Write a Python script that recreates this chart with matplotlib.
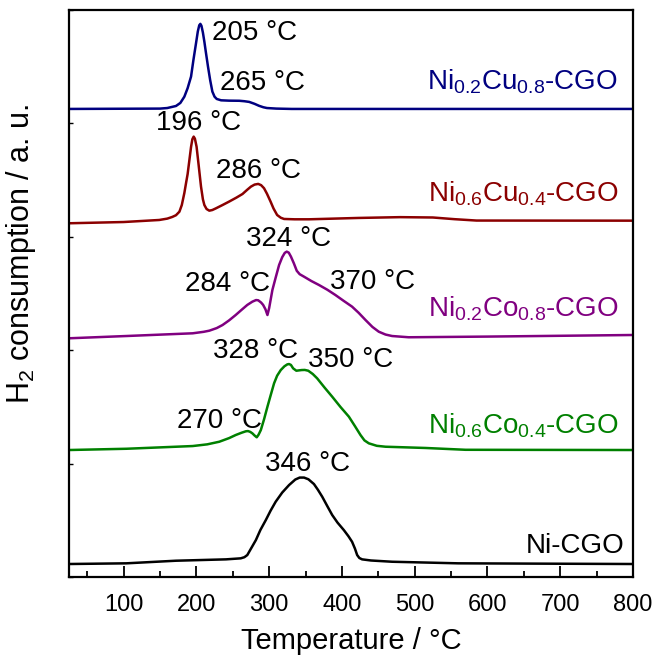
import matplotlib
matplotlib.use("Agg")
import matplotlib.pyplot as plt

plt.rcParams['font.family'] = ['Liberation Sans', 'DejaVu Sans']
plt.rcParams['mathtext.fontset'] = 'custom'
plt.rcParams['mathtext.rm'] = 'Liberation Sans'
plt.rcParams['mathtext.it'] = 'Liberation Sans:italic'

# --- data (temperature in degC, signal in a.u.) ---
t_nicu28 = [25, 150, 160, 172, 178, 183.5, 188, 192.7, 196, 199.6, 202, 204, 205.5, 207, 209, 211, 213, 216, 219,
            222, 225, 228, 234, 245, 259, 266, 272.6, 280, 286, 292, 297, 310, 331, 800]
s_nicu28 = [0.127, 0.130, 0.135, 0.153, 0.18, 0.235, 0.31, 0.412, 0.56, 0.709, 0.81, 0.865, 0.877, 0.86, 0.80, 0.72,
            0.63, 0.50, 0.38, 0.28, 0.235, 0.215, 0.203, 0.200, 0.199, 0.195, 0.189, 0.172, 0.155, 0.142, 0.135, 0.13,
            0.127, 0.127]

t_nicu64 = [25, 100, 149, 160, 167, 172, 176.7, 180, 183.5, 186, 188, 190.5, 192.7, 194.5, 196.3, 198, 200.3, 203,
            206.4, 209, 211, 214, 217.8, 222, 227, 236, 245, 255, 263.4, 270, 275, 280, 285, 289, 293, 297, 302, 306,
            311, 316, 320.5, 335, 354.8, 423, 480, 525, 555, 585, 800]
s_nicu64 = [0.119, 0.13, 0.148, 0.16, 0.175, 0.19, 0.221, 0.28, 0.386, 0.48, 0.553, 0.68, 0.792, 0.86, 0.883, 0.865,
            0.794, 0.64, 0.442, 0.33, 0.280, 0.245, 0.230, 0.236, 0.251, 0.28, 0.310, 0.345, 0.377, 0.415, 0.442,
            0.460, 0.466, 0.455, 0.428, 0.38, 0.310, 0.25, 0.192, 0.168, 0.157, 0.154, 0.154, 0.166, 0.173, 0.170,
            0.155, 0.143, 0.142]

t_nico28 = [25, 103.7, 195, 210, 217.8, 228, 236, 245, 254, 262, 270, 277, 282, 285, 289, 291.8, 295, 297.7, 300,
            304.5, 309, 313.7, 318, 321.5, 324.2, 327, 330, 334, 338, 342, 348, 358, 368.5, 380, 391, 402, 414, 423,
            432.5, 442, 450.7, 460, 469, 491.8, 600, 800]
s_nico28 = [0.105, 0.125, 0.149, 0.162, 0.172, 0.195, 0.222, 0.263, 0.310, 0.355, 0.399, 0.428, 0.442, 0.440, 0.42,
            0.399, 0.36, 0.310, 0.37, 0.531, 0.64, 0.751, 0.82, 0.858, 0.869, 0.86, 0.825, 0.766, 0.70, 0.67, 0.648,
            0.61, 0.575, 0.533, 0.487, 0.437, 0.384, 0.33, 0.266, 0.205, 0.163, 0.138, 0.125, 0.114, 0.12, 0.134]

t_nico64 = [25, 103.7, 195, 215, 231.5, 245, 254, 262, 268, 271, 274, 277, 280, 283, 285.5, 288.6, 293, 297.7, 302,
            306.8, 311, 316, 321, 325, 327.4, 330, 333, 337.4, 341, 344.7, 349, 353.8, 360, 366, 376, 386.7, 398,
            409.6, 418, 425.6, 431, 437, 448, 460, 515, 570, 800]
s_nico64 = [0.120, 0.131, 0.155, 0.17, 0.193, 0.225, 0.252, 0.272, 0.285, 0.287, 0.28, 0.267, 0.248, 0.232, 0.255,
            0.296, 0.39, 0.502, 0.60, 0.708, 0.775, 0.825, 0.858, 0.875, 0.878, 0.87, 0.84, 0.819, 0.822, 0.825,
            0.826, 0.819, 0.79, 0.752, 0.672, 0.590, 0.50, 0.414, 0.33, 0.252, 0.205, 0.179, 0.157, 0.149, 0.138,
            0.122, 0.120]

t_ni = [25, 103.7, 172, 240.7, 261, 266, 270, 275, 281.8, 288, 295.5, 302, 309, 318, 327.4, 336, 342, 348, 354,
        361.6, 367, 373, 380, 386.7, 394, 402.7, 409, 414, 418, 421, 424, 427.8, 440, 469, 560, 800]
s_ni = [0.115, 0.121, 0.144, 0.156, 0.165, 0.175, 0.194, 0.25, 0.326, 0.415, 0.503, 0.585, 0.664, 0.745, 0.811, 0.86,
        0.877, 0.877, 0.862, 0.820, 0.77, 0.708, 0.625, 0.547, 0.48, 0.414, 0.36, 0.311, 0.25, 0.194, 0.168, 0.156,
        0.146, 0.135, 0.121, 0.115]

names = [r'Ni$_{0.2}$Cu$_{0.8}$-CGO', r'Ni$_{0.6}$Cu$_{0.4}$-CGO',
         r'Ni$_{0.2}$Co$_{0.8}$-CGO', r'Ni$_{0.6}$Co$_{0.4}$-CGO', 'Ni-CGO']
temps = [t_nicu28, t_nicu64, t_nico28, t_nico64, t_ni]
signals = [s_nicu28, s_nicu64, s_nico28, s_nico64, s_ni]
offsets = [4, 3, 2, 1, 0]
colors = ['#000080', '#8B0000', '#800080', '#008000', 'black']

# peak annotations: (label, temperature position, height)
peak_labels = ['205 °C', '265 °C', '196 °C', '286 °C', '324 °C', '284 °C',
               '370 °C', '328 °C', '350 °C', '270 °C', '346 °C']
peak_x = [279.5, 290.4, 203.4, 286, 327.4, 243, 441.8, 281.8, 412, 231.5, 352.7]
peak_y = [4.797, 4.356, 4.004, 3.580, 2.981, 2.584, 2.597, 1.989, 1.914, 1.376, 0.996]

fig = plt.figure(figsize=(6.58, 6.61), dpi=100)
ax = fig.add_axes([0.1049, 0.127, 0.857, 0.858])

for t, s, off, c in zip(temps, signals, offsets, colors):
    ax.plot(t, [v + off for v in s], color=c, lw=1.8)

# sample names, right aligned
name_x = [779.5, 780, 781, 780, 788.6]
name_y = [4.295, 3.31, 2.296, 1.267, 0.209]
for n, x, y, c in zip(names, name_x, name_y, colors):
    ax.text(x, y, n, color=c, fontsize=20, ha='right', va='baseline')

for lab, x, y in zip(peak_labels, peak_x, peak_y):
    ax.text(x, y, lab, fontsize=20, ha='center', va='center')

ax.set_xlim(25, 800)
ax.set_ylim(0, 5)
ax.set_xticks(range(100, 801, 100))
ax.set_xticks(range(50, 801, 100), minor=True)
ax.set_yticks(range(0, 6))
ax.set_yticklabels([])
ax.tick_params(axis='x', which='major', direction='in', length=8, width=1.3, labelsize=17, pad=12)
ax.tick_params(axis='x', which='minor', direction='in', length=4, width=1.3)
ax.tick_params(axis='y', which='major', direction='in', length=3, width=1)
for sp in ax.spines.values():
    sp.set_linewidth(1.6)

ax.set_xlabel('Temperature / °C', fontsize=21, labelpad=8)
ax.set_ylabel(r'H$_2$ consumption / a. u.', fontsize=22)
ax.yaxis.set_label_coords(-0.055, 0.57)

fig.savefig('out.png', dpi=100)
